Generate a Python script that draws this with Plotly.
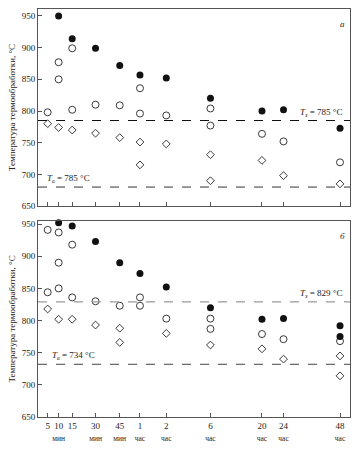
import plotly.graph_objects as go

# Time categories and their positions on the time axis
time_labels = ["5", "10<br><span style='font-size:7.5px'>мин</span>", "15",
               "30<br><span style='font-size:7.5px'>мин</span>", "45<br><span style='font-size:7.5px'>мин</span>",
               "1<br><span style='font-size:7.5px'>час</span>", "2<br><span style='font-size:7.5px'>час</span>",
               "6<br><span style='font-size:7.5px'>час</span>", "20<br><span style='font-size:7.5px'>час</span>",
               "24<br><span style='font-size:7.5px'>час</span>", "48<br><span style='font-size:7.5px'>час</span>"]
x_pos = [9.7, 20.7, 34.3, 57.7, 82, 102.3, 128.7, 173, 224.7, 246.3, 303]

# Panel a
a_black_x = [1, 2, 3, 4, 5, 6, 7, 8, 9, 10]
a_black_y = [950, 914, 899, 872, 857, 852, 820, 800, 802, 773]
a_open_x = [0, 1, 1, 2, 2, 3, 4, 5, 5, 6, 7, 7, 8, 9, 10]
a_open_y = [798, 877, 850, 899, 802, 810, 809, 836, 796, 793, 804, 777, 764, 752, 719]
a_dia_x = [0, 1, 2, 3, 4, 5, 5, 6, 7, 7, 8, 9, 10]
a_dia_y = [780, 774, 770, 765, 758, 751, 715, 748, 731, 690, 722, 698, 685]
a_upper, a_lower = 785, 680

# Panel б
b_black_x = [1, 2, 3, 4, 5, 6, 7, 8, 9, 10, 10]
b_black_y = [952, 947, 923, 890, 873, 852, 820, 802, 803, 792, 775]
b_open_x = [0, 0, 1, 1, 1, 2, 2, 3, 4, 5, 5, 6, 7, 7, 8, 9, 10]
b_open_y = [941, 844, 937, 890, 850, 918, 836, 830, 823, 836, 823, 803, 803, 787, 779, 771, 768]
b_dia_x = [0, 1, 2, 3, 4, 4, 6, 7, 8, 9, 10, 10]
b_dia_y = [818, 802, 802, 793, 788, 766, 780, 762, 756, 740, 745, 714]
b_upper, b_lower = 829, 732

SERIF = "Liberation Serif, DejaVu Serif, serif"
TXT = "#222"

fig = go.Figure()

def add_panel(xa, ya, bx, by, ox, oy, dx, dy):
    fig.add_trace(go.Scatter(x=[x_pos[i] for i in dx], y=dy, mode="markers", xaxis=xa, yaxis=ya,
                             marker=dict(symbol="diamond-open", size=6, color="#222", line=dict(width=0.9)),
                             showlegend=False, cliponaxis=False, hoverinfo="skip"))
    fig.add_trace(go.Scatter(x=[x_pos[i] for i in ox], y=oy, mode="markers", xaxis=xa, yaxis=ya,
                             marker=dict(symbol="circle-open", size=7, color="#222", line=dict(width=0.9)),
                             showlegend=False, cliponaxis=False, hoverinfo="skip"))
    fig.add_trace(go.Scatter(x=[x_pos[i] for i in bx], y=by, mode="markers", xaxis=xa, yaxis=ya,
                             marker=dict(symbol="circle", size=7, color="#111"),
                             showlegend=False, cliponaxis=False, hoverinfo="skip"))

add_panel("x", "y", a_black_x, a_black_y, a_open_x, a_open_y, a_dia_x, a_dia_y)
add_panel("x2", "y2", b_black_x, b_black_y, b_open_x, b_open_y, b_dia_x, b_dia_y)

# dashed reference lines
shapes = [
    dict(type="line", xref="x domain", yref="y", x0=0, x1=1, y0=a_upper, y1=a_upper,
         line=dict(color="#111", width=1.2, dash="dash")),
    dict(type="line", xref="x domain", yref="y", x0=0, x1=1, y0=a_lower, y1=a_lower,
         line=dict(color="#333", width=1, dash="dash")),
    dict(type="line", xref="x2 domain", yref="y2", x0=0, x1=1, y0=b_upper, y1=b_upper,
         line=dict(color="#999", width=1.4, dash="dash")),
    dict(type="line", xref="x2 domain", yref="y2", x0=0, x1=1, y0=b_lower, y1=b_lower,
         line=dict(color="#444", width=1, dash="dash")),
]
fig.update_layout(shapes=shapes)

afont = dict(family=SERIF, size=9, color=TXT)
anns = [
    dict(text="<i>T</i><sub><i>з</i></sub> = 785 °C", xref="x", yref="y", x=307, y=a_upper, xanchor="right",
         yanchor="bottom", showarrow=False, yshift=1, font=afont),
    dict(text="<i>T</i><sub><i>в</i></sub> = 785 °C", xref="x", yref="y", x=7, y=a_lower, xanchor="left",
         yanchor="bottom", showarrow=False, yshift=1, font=afont),
    dict(text="<i>а</i>", xref="x domain", yref="y domain", x=0.975, y=0.96, xanchor="center",
         yanchor="top", showarrow=False, font=afont),
    dict(text="<i>T</i><sub><i>з</i></sub> = 829 °C", xref="x2", yref="y2", x=307, y=b_upper, xanchor="right",
         yanchor="bottom", showarrow=False, yshift=1, font=afont),
    dict(text="<i>T</i><sub><i>в</i></sub> = 734 °C", xref="x2", yref="y2", x=12, y=b_lower, xanchor="left",
         yanchor="bottom", showarrow=False, yshift=1, font=afont),
    dict(text="<i>б</i>", xref="x2 domain", yref="y2 domain", x=0.975, y=0.96, xanchor="center",
         yanchor="top", showarrow=False, font=afont),
]
fig.update_layout(annotations=anns)

axis_common = dict(showline=True, linecolor="#555", linewidth=1, mirror=True, ticks="inside",
                   ticklen=4, tickcolor="#555", showgrid=False, zeroline=False,
                   tickfont=dict(family=SERIF, size=9, color=TXT))

fig.update_layout(
    width=358, height=450,
    margin=dict(l=38, r=7, t=8, b=28),
    paper_bgcolor="white", plot_bgcolor="white",
    font=dict(family=SERIF, size=9, color=TXT),
    xaxis=dict(axis_common, domain=[0, 1], range=[0, 313], tickvals=x_pos, showticklabels=False,
               anchor="y"),
    yaxis=dict(axis_common, domain=[0.517, 1], range=[650, 961], tickvals=[650, 700, 750, 800, 850, 900, 950],
               anchor="x", title=dict(text="Температура термообработки, °C", standoff=4,
                                      font=dict(family=SERIF, size=9, color=TXT))),
    xaxis2=dict(axis_common, domain=[0, 1], range=[0, 313], tickvals=x_pos, ticktext=time_labels,
                tickangle=0, anchor="y2"),
    yaxis2=dict(axis_common, domain=[0, 0.4807], range=[650, 955], tickvals=[650, 700, 750, 800, 850, 900, 950],
                anchor="x2", title=dict(text="Температура термообработки, °C", standoff=4,
                                        font=dict(family=SERIF, size=9, color=TXT))),
)

fig.write_html("out.html", config={"displayModeBar": False},
               post_script="document.body.style.margin='0';")
